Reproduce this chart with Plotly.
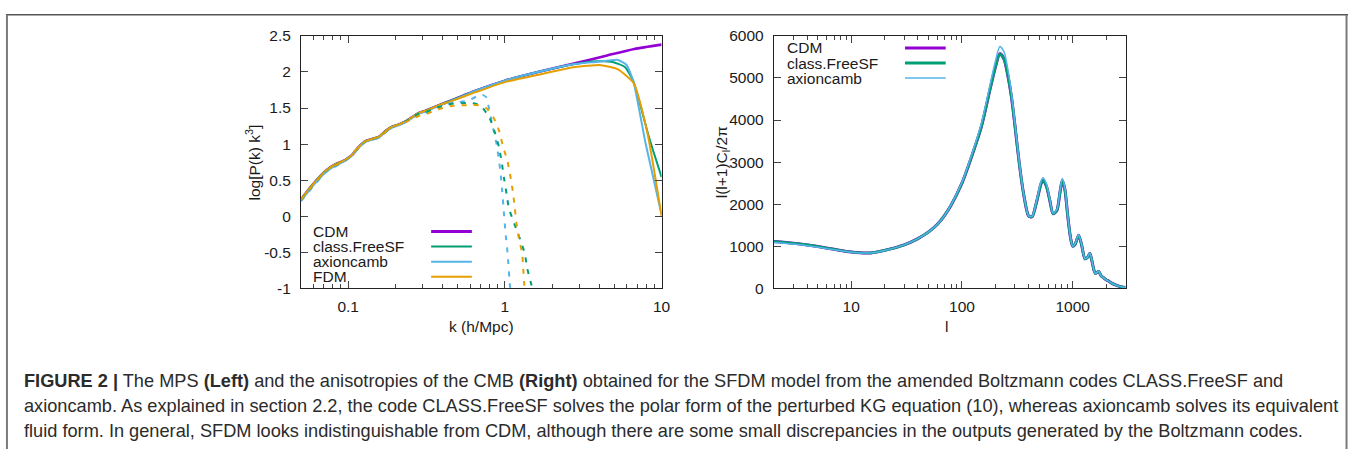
import plotly.graph_objects as go
import math

W, H = 1360, 457

# ---------------- Left panel data: log[P(k) k^3] vs k ----------------
k_cdm = [0.05, 0.059, 0.072, 0.083, 0.096, 0.106, 0.117, 0.129, 0.142, 0.157, 0.173, 0.191,
         0.21, 0.231, 0.255, 0.281, 0.31, 0.36, 0.46, 0.65, 1.0, 1.7, 2.8, 4.5, 6.7, 10]
p_cdm = [0.23, 0.43, 0.63, 0.72, 0.78, 0.85, 0.96, 1.04, 1.07, 1.10, 1.18, 1.24,
         1.27, 1.31, 1.37, 1.43, 1.46, 1.52, 1.61, 1.74, 1.88, 2.01, 2.12, 2.23, 2.32, 2.38]

k_sf = [0.05, 0.059, 0.072, 0.083, 0.096, 0.106, 0.117, 0.129, 0.142, 0.157, 0.173, 0.191,
        0.21, 0.231, 0.255, 0.281, 0.31, 0.36, 0.46, 0.65, 1.0, 1.7, 2.8, 3.8, 4.86, 5.83, 6.61, 8.32, 10]
p_class = [0.23, 0.43, 0.63, 0.72, 0.78, 0.85, 0.96, 1.04, 1.07, 1.10, 1.18, 1.24,
           1.27, 1.31, 1.37, 1.43, 1.46, 1.52, 1.61, 1.74, 1.88, 2.01, 2.11, 2.15, 2.14, 2.07, 1.87, 1.09, 0.54]

k_ax = [0.05, 0.059, 0.072, 0.083, 0.096, 0.106, 0.117, 0.129, 0.142, 0.157, 0.173, 0.191,
        0.21, 0.231, 0.255, 0.281, 0.31, 0.36, 0.46, 0.65, 1.0, 1.7, 2.8, 3.8, 4.6, 5.23, 5.96, 6.61, 7.92, 10]
p_axion = [0.21, 0.41, 0.61, 0.70, 0.77, 0.84, 0.95, 1.03, 1.06, 1.09, 1.17, 1.23,
           1.26, 1.30, 1.36, 1.42, 1.45, 1.51, 1.60, 1.74, 1.88, 2.01, 2.11, 2.14, 2.16, 2.17, 2.10, 1.87, 1.00, 0.02]

k_fdm = [0.05, 0.059, 0.072, 0.083, 0.096, 0.106, 0.117, 0.129, 0.142, 0.157, 0.173, 0.191,
         0.21, 0.231, 0.255, 0.281, 0.31, 0.36, 0.46, 0.65, 1.0, 1.7, 2.8, 4.1, 5.23, 6.61, 8.11, 10]
p_fdm = [0.23, 0.43, 0.63, 0.72, 0.78, 0.85, 0.96, 1.04, 1.07, 1.10, 1.18, 1.24,
         1.27, 1.31, 1.37, 1.43, 1.46, 1.52, 1.60, 1.72, 1.86, 1.97, 2.07, 2.095, 2.04, 1.85, 1.16, 0.0]

# lighter-mass runs (dashed)
k_class_d = [0.05, 0.072, 0.096, 0.129, 0.157, 0.191, 0.231, 0.281, 0.31, 0.36, 0.46, 0.58, 0.65,
             0.71, 0.80, 0.864, 0.916, 0.953, 0.985, 1.025, 1.06, 1.146, 1.25, 1.34, 1.39, 1.48, 1.52]
p_class_d = [0.23, 0.63, 0.78, 1.04, 1.10, 1.24, 1.31, 1.42, 1.44, 1.50, 1.56, 1.57, 1.56,
             1.52, 1.36, 1.16, 0.96, 0.76, 0.54, 0.31, 0.11, -0.10, -0.32, -0.52, -0.73, -0.96, -1.05]

k_ax_d = [0.05, 0.072, 0.096, 0.129, 0.157, 0.191, 0.231, 0.281, 0.31, 0.36, 0.46, 0.58, 0.66,
          0.72, 0.76, 0.784, 0.843, 0.885, 0.916, 0.943, 0.962, 0.98, 1.01, 1.04, 1.076, 1.09]
p_ax_d = [0.21, 0.61, 0.77, 1.03, 1.09, 1.23, 1.30, 1.41, 1.43, 1.50, 1.57, 1.60, 1.66,
          1.68, 1.65, 1.54, 1.21, 1.00, 0.78, 0.56, 0.34, 0.115, -0.24, -0.51, -0.955, -1.05]

k_fdm_d = [0.05, 0.072, 0.096, 0.129, 0.157, 0.191, 0.231, 0.281, 0.31, 0.36, 0.46, 0.58, 0.68,
           0.76, 0.85, 0.92, 0.975, 1.04, 1.087, 1.13, 1.157, 1.186, 1.232, 1.29, 1.31, 1.33, 1.34]
p_fdm_d = [0.23, 0.63, 0.78, 1.04, 1.10, 1.24, 1.30, 1.39, 1.41, 1.47, 1.53, 1.54, 1.54,
           1.50, 1.36, 1.18, 0.96, 0.76, 0.54, 0.31, 0.11, -0.10, -0.32, -0.52, -0.73, -0.955, -1.05]

# ---------------- Right panel data: CMB TT spectrum ----------------
ell = [2, 3, 4, 5, 7, 10, 15, 20, 30, 40, 50, 60, 70, 80, 100, 120, 150, 180, 200, 220,
       240, 260, 280, 300, 330, 360, 400, 430, 470, 520, 540, 580, 620, 665, 720, 770, 805,
       850, 900, 950, 1000, 1050, 1130, 1200, 1290, 1360, 1430, 1500, 1560, 1610, 1720, 1800,
       1900, 2000, 2100, 2250, 2400, 2600, 2800, 3000]
cl_cdm = [1110, 1070, 1030, 990, 925, 860, 840, 900, 1030, 1180, 1340, 1520, 1740, 1980, 2500,
          3070, 3850, 4750, 5250, 5580, 5450, 5050, 4550, 3900, 2950, 2250, 1720, 1700, 2030,
          2500, 2560, 2420, 2100, 1770, 1850, 2300, 2560, 2350, 1750, 1250, 1000, 1040, 1260,
          1050, 700, 730, 830, 620, 420, 350, 400, 300, 250, 200, 175, 120, 85, 50, 30, 15]
cl_class = [1110, 1070, 1030, 990, 925, 860, 840, 900, 1030, 1180, 1340, 1520, 1740, 1980, 2500,
            3070, 3850, 4750, 5250, 5570, 5450, 5050, 4550, 3900, 2950, 2250, 1720, 1700, 2030,
            2500, 2560, 2420, 2100, 1770, 1850, 2300, 2560, 2350, 1750, 1250, 1000, 1040, 1260,
            1050, 700, 730, 830, 620, 420, 350, 400, 300, 250, 200, 175, 120, 85, 50, 30, 15]
cl_axion = [1090, 1050, 1010, 975, 915, 855, 838, 898, 1030, 1180, 1340, 1520, 1740, 1990, 2520,
            3110, 3930, 4860, 5390, 5750, 5620, 5200, 4650, 3960, 2980, 2260, 1720, 1710, 2060,
            2560, 2630, 2480, 2130, 1780, 1870, 2340, 2610, 2390, 1770, 1260, 1000, 1050, 1270,
            1060, 700, 735, 840, 625, 420, 350, 405, 300, 250, 200, 175, 120, 85, 50, 30, 15]

# ---------------- tick definitions ----------------
k_major = [0.1, 1, 10]
k_major_text = ["0.1", "1", "10"]
k_minor = [0.05, 0.06, 0.07, 0.08, 0.09, 0.2, 0.3, 0.4, 0.5, 0.6, 0.7, 0.8, 0.9,
           2, 3, 4, 5, 6, 7, 8, 9]
p_ticks = [-1, -0.5, 0, 0.5, 1, 1.5, 2, 2.5]
p_ticktext = ["-1", "-0.5", "0", "0.5", "1", "1.5", "2", "2.5"]
l_major = [10, 100, 1000]
l_major_text = ["10", "100", "1000"]
l_minor = [2, 3, 4, 5, 6, 7, 8, 9, 20, 30, 40, 50, 60, 70, 80, 90,
           200, 300, 400, 500, 600, 700, 800, 900, 2000, 3000]
cl_ticks = [0, 1000, 2000, 3000, 4000, 5000, 6000]

PURPLE = "#9400d3"
GREEN = "#009e73"
BLUE = "#56b4e9"
ORANGE = "#e69f00"
FONT = "Liberation Sans, Arial, sans-serif"
TXT = "#1a1a1a"
FS = 15.5


def px(x):
    return x / W


def py(y):
    return 1 - y / H


fig = go.Figure()

# left panel
fig.add_trace(go.Scatter(x=k_cdm, y=p_cdm, mode="lines", line=dict(color=PURPLE, width=2.6, shape="spline", smoothing=0.6),
                         xaxis="x", yaxis="y", showlegend=False, name="CDM"))
fig.add_trace(go.Scatter(x=k_sf, y=p_class, mode="lines", line=dict(color=GREEN, width=2, shape="spline", smoothing=0.5),
                         xaxis="x", yaxis="y", showlegend=False, name="class.FreeSF"))
fig.add_trace(go.Scatter(x=k_ax, y=p_axion, mode="lines", line=dict(color=BLUE, width=2, shape="spline", smoothing=0.5),
                         xaxis="x", yaxis="y", showlegend=False, name="axioncamb"))
fig.add_trace(go.Scatter(x=k_fdm, y=p_fdm, mode="lines", line=dict(color=ORANGE, width=2, shape="spline", smoothing=0.5),
                         xaxis="x", yaxis="y", showlegend=False, name="FDM"))
fig.add_trace(go.Scatter(x=k_ax_d, y=p_ax_d, mode="lines", line=dict(color=BLUE, width=2, dash="5px,7px", shape="spline", smoothing=0.4),
                         xaxis="x", yaxis="y", showlegend=False, name="axioncamb (dashed)"))
fig.add_trace(go.Scatter(x=k_class_d, y=p_class_d, mode="lines", line=dict(color=GREEN, width=2, dash="5px,7px", shape="spline", smoothing=0.4),
                         xaxis="x", yaxis="y", showlegend=False, name="class.FreeSF (dashed)"))
fig.add_trace(go.Scatter(x=k_fdm_d, y=p_fdm_d, mode="lines", line=dict(color=ORANGE, width=2, dash="5px,7px", shape="spline", smoothing=0.4),
                         xaxis="x", yaxis="y", showlegend=False, name="FDM (dashed)"))

# right panel
fig.add_trace(go.Scatter(x=ell, y=cl_cdm, mode="lines", line=dict(color=PURPLE, width=3, shape="spline", smoothing=0.7),
                         xaxis="x2", yaxis="y2", showlegend=False, name="CDM"))
fig.add_trace(go.Scatter(x=ell, y=cl_class, mode="lines", line=dict(color=GREEN, width=2.6, shape="spline", smoothing=0.7),
                         xaxis="x2", yaxis="y2", showlegend=False, name="class.FreeSF"))
fig.add_trace(go.Scatter(x=ell, y=cl_axion, mode="lines", line=dict(color=BLUE, width=1.5, shape="spline", smoothing=0.7),
                         xaxis="x2", yaxis="y2", showlegend=False, name="axioncamb"))

axis_common = dict(showline=True, linecolor="#222222", linewidth=1, mirror="allticks",
                   ticks="inside", tickcolor="#444444", tickwidth=1, showgrid=False, zeroline=False,
                   tickfont=dict(family=FONT, size=FS, color=TXT))

fig.update_layout(
    width=W, height=H,
    margin=dict(l=0, r=0, t=0, b=0),
    paper_bgcolor="white", plot_bgcolor="white",
    xaxis=dict(type="log", range=[math.log10(0.05), 1], domain=[px(303), px(666)], anchor="y",
               tickmode="array", tickvals=k_major, ticktext=k_major_text, ticklen=7,
               minor=dict(ticks="inside", ticklen=4, tickmode="array", tickvals=k_minor, tickcolor="#444444", showgrid=False),
               ticklabelstandoff=4, **axis_common),
    yaxis=dict(range=[-1, 2.5], domain=[py(290), py(28)], anchor="x",
               tickmode="array", tickvals=p_ticks, ticktext=p_ticktext, ticklen=7,
               ticklabelstandoff=6, **axis_common),
    xaxis2=dict(type="log", range=[math.log10(2), math.log10(3000)], domain=[px(779), px(1133)], anchor="y2",
                tickmode="array", tickvals=l_major, ticktext=l_major_text, ticklen=7,
                minor=dict(ticks="inside", ticklen=4, tickmode="array", tickvals=l_minor, tickcolor="#444444", showgrid=False),
                ticklabelstandoff=4, **axis_common),
    yaxis2=dict(range=[0, 6000], domain=[py(290), py(28)], anchor="x2",
                tickmode="array", tickvals=cl_ticks, ticklen=7,
                ticklabelstandoff=6, **axis_common),
)

annotations = []
shapes = []


def label(text, x, y, **kw):
    d = dict(text=text, x=px(x), y=py(y), xref="paper", yref="paper", yanchor="middle",
             showarrow=False, font=dict(family=FONT, size=FS, color=TXT))
    d.update(kw)
    annotations.append(d)


# axis titles
label("k (h/Mpc)", 484.5, 330)
label("log[P(k) k<sup>3</sup>]", 243, 159, textangle=-90)
label("l", 956, 330)
label("l(l+1)C<sub>l</sub>/2π", 727, 159, textangle=-90)

# legends (gnuplot style: label left, sample right)
left_leg = [("CDM", PURPLE, 3), ("class.FreeSF", GREEN, 2), ("axioncamb", BLUE, 2), ("FDM", ORANGE, 2)]
for i, (name, col, w) in enumerate(left_leg):
    yy = 231 + i * 15.7
    label(name, 313, yy, xanchor="left")
    shapes.append(dict(type="line", xref="paper", yref="paper", x0=px(434), x1=px(475), y0=py(yy), y1=py(yy),
                       line=dict(color=col, width=w)))
right_leg = [("CDM", PURPLE, 3), ("class.FreeSF", GREEN, 3), ("axioncamb", BLUE, 1.5)]
for i, (name, col, w) in enumerate(right_leg):
    yy = 40.5 + i * 15.6
    label(name, 790, yy, xanchor="left")
    shapes.append(dict(type="line", xref="paper", yref="paper", x0=px(911), x1=px(952), y0=py(yy), y1=py(yy),
                       line=dict(color=col, width=w)))

# caption
cap_lines = [
    "<b>FIGURE 2 |</b> The MPS <b>(Left)</b> and the anisotropies of the CMB <b>(Right)</b> obtained for the SFDM model from the amended Boltzmann codes CLASS.FreeSF and",
    "axioncamb. As explained in section 2.2, the code CLASS.FreeSF solves the polar form of the perturbed KG equation (10), whereas axioncamb solves its equivalent",
    "fluid form. In general, SFDM looks indistinguishable from CDM, although there are some small discrepancies in the outputs generated by the Boltzmann codes.",
]
for i, t in enumerate(cap_lines):
    annotations.append(dict(text=t, x=px(22), y=py(386 + i * 26), xref="paper", yref="paper",
                            xanchor="left", yanchor="middle", showarrow=False,
                            font=dict(family=FONT, size=18.2, color="#2b2b2b")))

# frame of the figure box
shapes.append(dict(type="line", xref="paper", yref="paper", x0=px(6), x1=px(1357), y0=py(6), y1=py(6),
                   line=dict(color="#555555", width=1.6)))
shapes.append(dict(type="line", xref="paper", yref="paper", x0=px(7), x1=px(7), y0=py(6), y1=py(457),
                   line=dict(color="#7a7a7a", width=2)))
shapes.append(dict(type="line", xref="paper", yref="paper", x0=px(1355.5), x1=px(1355.5), y0=py(6), y1=py(457),
                   line=dict(color="#7a7a7a", width=2)))

fig.update_layout(annotations=annotations, shapes=shapes)
fig.write_html("out.html", post_script="document.body.style.margin='0px';")
